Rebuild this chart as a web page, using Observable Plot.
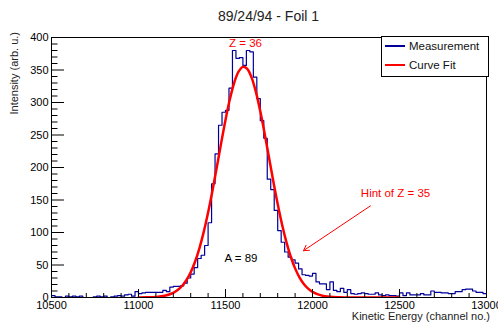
<!DOCTYPE html>
<html><head><meta charset="utf-8">
<script src="https://cdn.jsdelivr.net/npm/d3@7"></script>
<script src="https://cdn.jsdelivr.net/npm/@observablehq/plot@0.6"></script>
<style>body{margin:0;background:#fff} svg{display:block}</style>
</head><body><div id="chart"></div>
<script>
// Histogram: 20-channel bins from 10500 to 13000
const binStart = 10500;
const binWidth = 20;
const counts = [
  3,1,1,0,2,1,2,1,2,0, 0,0,1,2,1,2,0,1,2,3, 2,4,5,2,9,
  6,7,8,8,8,8,8,11,9,16, 17,17,18,22,30,36,46,60,65,80, 115,175,221,265,285,
  288,322,380,368,369,357,380,378,339,306, 272,245,182,166,134,103,85,70,62,58, 53,44,35,34,33,
  37,24,21,21,12,24,11,9,14,8, 12,6,5,6,7,6,5,5,7,4, 3,4,3,3,2,
  7,3,7,4,4,4,6,4,4,10, 8,8,7,7,6,6,9,9,12,13, 13,10,8,8,6
];
// Fitted Gaussian curve (fit range 11000-12500)
const fitChannels = [11000,11050,11100,11150,11200,11225,11250,11275,11300,11325,11350,11375,11400,11425,11450,11475,11500,11525,11550,11575,11600,11625,11650,11675,11700,11725,11750,11775,11800,11825,11850,11875,11900,11925,11950,11975,12000,12050,12100,12150,12200,12250,12300,12350,12400,12450,12500];
const fitValues   = [0.1,0.2,0.8,2.6,7.2,11.4,17.7,26.6,38.9,55.0,75.7,100.9,130.6,164.3,200.5,237.5,273.1,304.9,330.4,347.5,354.8,351.6,338.3,316.0,286.4,252.1,215.3,178.5,143.7,112.3,85.2,62.7,44.8,31.1,20.9,13.7,8.7,3.2,1.0,0.3,0.1,0,0,0,0,0,0];
const xMajor = [10500,11000,11500,12000,12500,13000];
const xMinor = [10600,10700,10800,10900,11100,11200,11300,11400,11600,11700,11800,11900,12100,12200,12300,12400,12600,12700,12800,12900];
const yMajor = [0,50,100,150,200,250,300,350,400];
const yMinor = [10,20,30,40,60,70,80,90,110,120,130,140,160,170,180,190,210,220,230,240,260,270,280,290,310,320,330,340,360,370,380,390];
const labels = [
  {x: 11615, y: 391, text: "Z = 36", color: "#ff0000"},
  {x: 11589, y: 60, text: "A = 89", color: "#000000"},
  {x: 12477, y: 160, text: "Hint of Z = 35", color: "#ff0000"}
];
const arrows = [{x1: 12333, y1: 141, x2: 11948, y2: 72}];
const legendItems = [{name: "Measurement", color: "#000099"}, {name: "Curve Fit", color: "#ff0000"}];

const histPoints = counts.map((c, i) => ({x: binStart + i * binWidth, y: c}));
histPoints.push({x: binStart + counts.length * binWidth, y: counts[counts.length - 1]});
const fitPoints = fitChannels.map((c, i) => ({x: c, y: fitValues[i]}));

const W = 498, H = 324, ML = 51, MR = 12, MT = 37, MB = 27;
const fw = W - ML - MR, fh = H - MT - MB;
const font = "'Liberation Sans', Arial, Helvetica, sans-serif";

const chart = Plot.plot({
  width: W, height: H,
  marginLeft: ML, marginRight: MR, marginTop: MT, marginBottom: MB,
  style: {fontFamily: font, fontSize: "11px", background: "white", overflow: "visible"},
  x: {domain: [10500, 13000]},
  y: {domain: [0, 400]},
  marks: [
    Plot.line(histPoints, {x: "x", y: "y", curve: "step-after", stroke: "#000099", strokeWidth: 1.2, clip: true}),
    Plot.line(fitPoints, {x: "x", y: "y", curve: "catmull-rom", stroke: "#ff0000", strokeWidth: 2.5, clip: true}),
    Plot.text(labels, {x: "x", y: "y", text: "text", fill: "color", fontSize: 11.5}),
    Plot.arrow(arrows, {x1: "x1", y1: "y1", x2: "x2", y2: "y2", stroke: "#ff0000", strokeWidth: 1, headLength: 9}),
    Plot.ruleX(xMajor, {x: d => d, insetTop: fh - 8, stroke: "black", strokeWidth: 1}),
    Plot.ruleX(xMinor, {x: d => d, insetTop: fh - 4, stroke: "black", strokeWidth: 1}),
    Plot.ruleY(yMajor, {y: d => d, insetRight: fw - 13, stroke: "black", strokeWidth: 1}),
    Plot.ruleY(yMinor, {y: d => d, insetRight: fw - 6.5, stroke: "black", strokeWidth: 1}),
    Plot.frame({stroke: "black", strokeWidth: 1}),
    Plot.axisX(xMajor, {tickSize: 0, tickPadding: 4, tickFormat: d => String(d), label: null, fontSize: 11, fill: "black"}),
    Plot.axisY(yMajor, {tickSize: 0, tickPadding: 3, tickFormat: d => String(d), label: null, fontSize: 11, fill: "black"})
  ]
});
document.getElementById("chart").appendChild(chart);

const svg = d3.select(chart);
svg.append("text").attr("x", ML + fw / 2).attr("y", 21).attr("text-anchor", "middle")
  .attr("font-family", font).attr("font-size", 14).attr("fill", "#222").text("89/24/94 - Foil 1");
svg.append("text").attr("x", 490).attr("y", 320).attr("text-anchor", "end")
  .attr("font-family", font).attr("font-size", 11).attr("fill", "#222").text("Kinetic Energy (channel no.)");
svg.append("text").attr("transform", "translate(18,32) rotate(-90)").attr("text-anchor", "end")
  .attr("font-family", font).attr("font-size", 11).attr("fill", "#222").text("Intensity (arb. u.)");

const lg = svg.append("g");
lg.append("rect").attr("x", 381.5).attr("y", 36.5).attr("width", 107).attr("height", 40)
  .attr("fill", "white").attr("stroke", "black").attr("stroke-width", 1);
legendItems.forEach((d, i) => {
  const cy = 46 + i * 19;
  lg.append("line").attr("x1", 385).attr("x2", 405).attr("y1", cy).attr("y2", cy)
    .attr("stroke", d.color).attr("stroke-width", 2);
  lg.append("text").attr("x", 409).attr("y", cy).attr("dy", "0.35em").attr("text-anchor", "start")
    .attr("font-family", font).attr("font-size", 11.5).attr("fill", "#111").text(d.name);
});
</script>
</body></html>
